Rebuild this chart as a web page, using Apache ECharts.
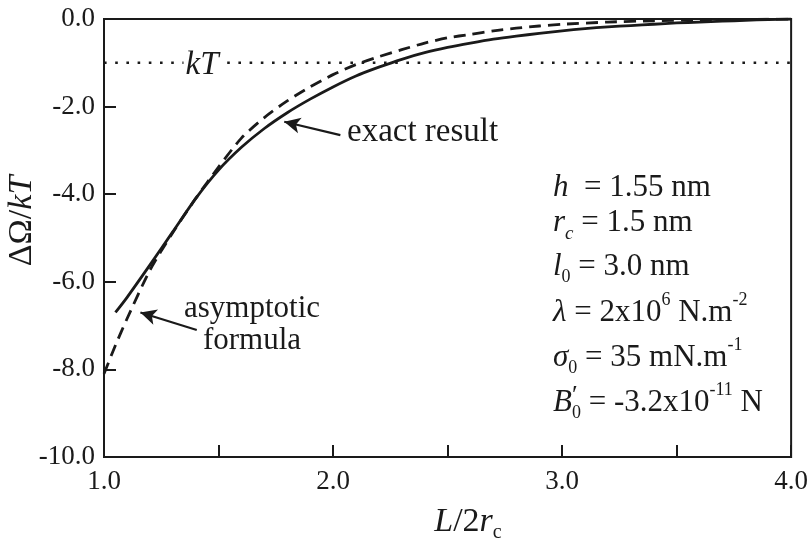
<!DOCTYPE html>
<html>
<head>
<meta charset="utf-8">
<script src="https://cdn.jsdelivr.net/npm/echarts@6/dist/echarts.min.js"></script>
<style>
  html, body { margin: 0; padding: 0; background: #fff; }
  #main { width: 811px; height: 545px; }
</style>
</head>
<body>
<div id="main"></div>
<script>
// exact result (solid curve)
var exactX = [1.05, 1.1, 1.2, 1.3, 1.4, 1.5, 1.6, 1.7, 1.8, 1.9, 2.0, 2.1, 2.2, 2.3, 2.4, 2.5, 2.6, 2.7, 2.8, 2.9, 3.0, 3.1, 3.2, 3.3, 3.4, 3.5, 3.6, 3.7, 3.8, 3.9, 4.0];
var exactY = [-6.70, -6.36, -5.62, -4.86, -4.10, -3.45, -2.93, -2.50, -2.14, -1.83, -1.55, -1.30, -1.10, -0.92, -0.77, -0.65, -0.55, -0.46, -0.39, -0.33, -0.27, -0.22, -0.18, -0.15, -0.12, -0.09, -0.07, -0.05, -0.03, -0.015, 0.0];
// asymptotic formula (dashed curve)
var asymX = [1.0, 1.05, 1.1, 1.2, 1.3, 1.4, 1.5, 1.6, 1.7, 1.8, 1.9, 2.0, 2.1, 2.2, 2.3, 2.4, 2.5, 2.6, 2.7, 2.8, 2.9, 3.0, 3.2, 3.4, 3.6, 3.8, 4.0];
var asymY = [-8.10, -7.45, -6.85, -5.74, -4.88, -4.10, -3.38, -2.72, -2.25, -1.87, -1.55, -1.27, -1.04, -0.86, -0.70, -0.55, -0.43, -0.35, -0.27, -0.21, -0.16, -0.12, -0.07, -0.04, -0.02, -0.01, 0.0];
// kT level (dotted)
var kTX = [1.0, 4.0];
var kTY = [-1.0, -1.0];
// tick labels
var xTickValues = [1, 2, 3, 4];
var xTickLabels = ['1.0', '2.0', '3.0', '4.0'];
var yTickValues = [-10, -8, -6, -4, -2, 0];
var yTickLabels = ['-10.0', '-8.0', '-6.0', '-4.0', '-2.0', '0.0'];
// arrow annotations (data coords: tail, head)
var exactArrow = [[2.032, -2.65], [1.787, -2.347]];
var asymArrow = [[1.405, -7.10], [1.159, -6.70]];

var ink = '#1a1a1a';
var serif = '"Liberation Serif", "Times New Roman", serif';

function zip(xs, ys) {
  return xs.map(function (x, i) { return [x, ys[i]]; });
}

var rich = {
  n: { fontFamily: serif, fontSize: 31, fill: ink },
  i: { fontFamily: serif, fontSize: 31, fontStyle: 'italic', fill: ink },
  sub: { fontFamily: serif, fontSize: 18, fill: ink, padding: [22, 0, 0, 0] },
  isub: { fontFamily: serif, fontSize: 19, fontStyle: 'italic', fill: ink, padding: [22, 0, 0, 0] },
  sup: { fontFamily: serif, fontSize: 18, fill: ink, padding: [0, 0, 24, 0] }
};

// parameter line (rich text)
function param(x, y, text) {
  return {
    type: 'text', x: x, y: y, z: 50,
    style: { text: text, rich: rich, font: '31px ' + serif, fill: ink, align: 'left', verticalAlign: 'middle' }
  };
}
// plain annotation text
function note(x, y, text, size, align) {
  return {
    type: 'text', x: x, y: y, z: 50,
    style: { text: text, font: size + 'px ' + serif, fill: ink, align: align, verticalAlign: 'middle' }
  };
}

var myChart = echarts.init(document.getElementById('main'));
var option = {
  animation: false,
  backgroundColor: '#fff',
  grid: { left: 104, right: 18, top: 19, bottom: 88, show: true, borderColor: ink, borderWidth: 2 },
  xAxis: {
    type: 'value', min: 1, max: 4, interval: 0.5,
    axisLine: { show: true, onZero: false, lineStyle: { color: ink, width: 2 } },
    axisTick: { show: true, inside: true, length: 12, lineStyle: { color: ink, width: 2 } },
    axisLabel: {
      margin: 11, fontSize: 27, fontFamily: serif, color: ink,
      formatter: function (v) { var i = xTickValues.indexOf(v); return i >= 0 ? xTickLabels[i] : ''; }
    },
    splitLine: { show: false }
  },
  yAxis: {
    type: 'value', min: -10, max: 0, interval: 2,
    axisLine: { show: true, onZero: false, lineStyle: { color: ink, width: 2 } },
    axisTick: { show: true, inside: true, length: 12, lineStyle: { color: ink, width: 2 } },
    axisLabel: {
      margin: 9, fontSize: 27, fontFamily: serif, color: ink,
      formatter: function (v) { var i = yTickValues.indexOf(v); return i >= 0 ? yTickLabels[i] : ''; }
    },
    splitLine: { show: false }
  },
  series: [
    {
      name: 'kT', type: 'line', data: zip(kTX, kTY), symbol: 'none', z: 1,
      lineStyle: { color: ink, width: 2.6, type: [2.6, 8.6], cap: 'butt' }
    },
    {
      name: 'exact result', type: 'line', data: zip(exactX, exactY), symbol: 'none', z: 3,
      smooth: 0.25,
      lineStyle: { color: ink, width: 2.8, join: 'round' },
      markLine: {
        silent: true, symbol: ['none', 'arrow'], symbolSize: [12, 16],
        label: { show: false },
        lineStyle: { color: ink, width: 2.2, type: 'solid' },
        data: [[{ coord: exactArrow[0] }, { coord: exactArrow[1] }]]
      }
    },
    {
      name: 'asymptotic formula', type: 'line', data: zip(asymX, asymY), symbol: 'none', z: 2,
      smooth: 0.25,
      lineStyle: { color: ink, width: 2.8, type: [12, 7] },
      markLine: {
        silent: true, symbol: ['none', 'arrow'], symbolSize: [12, 16],
        label: { show: false },
        lineStyle: { color: ink, width: 2.2, type: 'solid' },
        data: [[{ coord: asymArrow[0] }, { coord: asymArrow[1] }]]
      }
    }
  ],
  graphic: [
    // kT label sits on the dotted line
    {
      type: 'text', x: 202, y: 65, z: 50,
      style: { text: 'kT', font: 'italic 33px ' + serif, fill: ink, align: 'center', verticalAlign: 'middle',
        backgroundColor: '#fff', padding: [0, 2] }
    },
    note(347, 132, 'exact result', 33, 'left'),
    note(252, 309, 'asymptotic', 31, 'center'),
    note(252, 341, 'formula', 31, 'center'),
    // parameter block
    param(553, 187.5, '{i|h}{n|  = 1.55 nm}'),
    param(553, 222.5, '{i|r}{isub|c}{n| = 1.5 nm}'),
    param(553, 266.5, '{i|l}{sub|0}{n| = 3.0 nm}'),
    param(553, 312.5, '{i|λ}{n| = 2x10}{sup|6}{n| N.m}{sup|-2}'),
    param(553, 357.5, '{i|σ}{sub|0}{n| = 35 mN.m}{sup|-1}'),
    param(553, 402.5, '{i|B}{sub|0}{n| = -3.2x10}{sup|-11}{n| N}'),
    {
      type: 'text', x: 572, y: 396, z: 51,
      style: { text: '′', font: '26px ' + serif, fill: ink, align: 'left', verticalAlign: 'middle' }
    },
    // axis names
    {
      type: 'text', x: 22, y: 221, rotation: Math.PI / 2, z: 50,
      style: {
        text: '{n|ΔΩ/}{i|kT}', align: 'center', verticalAlign: 'middle',
        rich: {
          n: { fontFamily: serif, fontSize: 34, fill: ink },
          i: { fontFamily: serif, fontSize: 34, fontStyle: 'italic', fill: ink }
        }
      }
    },
    {
      type: 'text', x: 468, y: 522, z: 50,
      style: {
        text: '{i|L}{n|/2}{i|r}{s|c}', align: 'center', verticalAlign: 'middle',
        rich: {
          n: { fontFamily: serif, fontSize: 34, fill: ink },
          i: { fontFamily: serif, fontSize: 34, fontStyle: 'italic', fill: ink },
          s: { fontFamily: serif, fontSize: 20, fill: ink, padding: [22, 0, 0, 0] }
        }
      }
    }
  ]
};
myChart.setOption(option);
</script>
</body>
</html>
